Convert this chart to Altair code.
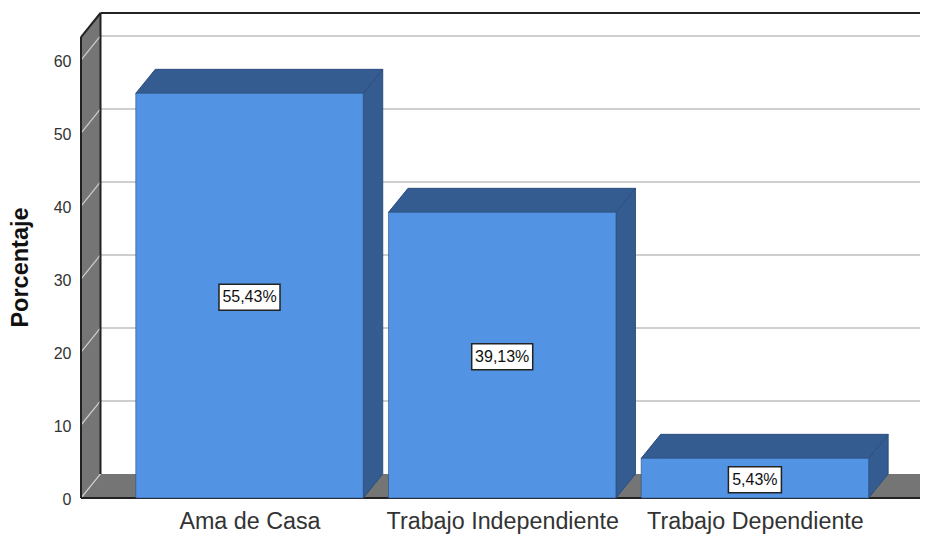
import altair as alt
import pandas as pd

categories = ["Ama de Casa", "Trabajo Independiente", "Trabajo Dependiente"]
values = [55.43, 39.13, 5.43]
labels = ["55,43%", "39,13%", "5,43%"]
y_ticks = [0, 10, 20, 30, 40, 50, 60]
y_title = "Porcentaje"

# scale frame (data units)
XMIN, XMAX, YMAX = -0.6668, 2.6533, 66.44
DX, DY = 0.0772, 3.29          # oblique depth of the 3D box
HALF = 0.45                    # half bar width
WALL_TOP = 63.15
PX_X = 1 / 252.7               # one pixel in x units
PX_Y = 1 / 7.3                 # one pixel in y units

FONT = "Liberation Sans"
FRONT, SHADE, EDGE = "#5294E3", "#345C90", "#2C4F7E"
WALL, GRID, DARK = "#757575", "#CFCFCF", "#222222"

X = alt.Scale(domain=[XMIN, XMAX], nice=False, zero=False)
Y = alt.Scale(domain=[0, YMAX], nice=False, zero=False)


def area(rows, fill, stroke=None, sw=1):
    kw = dict(fill=fill, interpolate="linear", opacity=1)
    if stroke:
        kw.update(stroke=stroke, strokeWidth=sw)
    return alt.Chart(pd.DataFrame(rows, columns=["g", "x", "y", "y2"])).mark_area(**kw).encode(
        x=alt.X("x:Q", scale=X, title=None),
        y=alt.Y("y:Q", scale=Y, title=y_title),
        y2="y2:Q",
        detail="g:N",
    )


def rules(rows, color, sw):
    return alt.Chart(pd.DataFrame(rows, columns=["x", "x2", "y", "y2"])).mark_rule(
        color=color, strokeWidth=sw
    ).encode(
        x=alt.X("x:Q", scale=X, title=None),
        x2="x2:Q",
        y=alt.Y("y:Q", scale=Y, title=y_title),
        y2="y2:Q",
    )


# axes carrier
axes = alt.Chart(pd.DataFrame({"x": [0], "y": [0]})).mark_point(opacity=0).encode(
    x=alt.X(
        "x:Q", scale=X, title=None,
        axis=alt.Axis(
            values=[0, 1, 2], grid=False, domain=False, ticks=False,
            labelExpr="[" + ",".join(f"'{c}'" for c in categories) + "][datum.value]",
            labelFont=FONT, labelFontSize=23.3, labelColor="#333333", labelPadding=12,
            labelOverlap=False, labelFlush=False, labelBound=False, labelLimit=400,
        ),
    ),
    y=alt.Y(
        "y:Q", scale=Y, title=y_title,
        axis=alt.Axis(
            values=y_ticks, grid=False, domain=False, ticks=False,
            labelFont=FONT, labelFontSize=16, labelColor="#333333", labelPadding=10,
            labelOffset=1, labelOverlap=False, labelBound=False,
            titleFont=FONT, titleFontSize=23.5, titleFontWeight="bold", titleColor="#111111",
            titleX=-54, titleY=254, titleBaseline="alphabetic",
        ),
    ),
)

left_wall = area(
    [("w", XMIN, 0, WALL_TOP), ("w", XMIN + DX, DY, WALL_TOP + DY)],
    WALL,
)
floor = area(
    [
        ("f", XMIN, 0, 0),
        ("f", XMIN + DX, 0, DY),
        ("f", XMAX, 0, DY),
    ],
    WALL,
)

grid_back = rules([(XMIN + DX, XMAX, t + DY, t + DY) for t in y_ticks if t > 0], GRID, 2)
grid_diag = rules([(XMIN, XMIN + DX, t, t + DY) for t in y_ticks], GRID, 1.2)
frame = rules(
    [
        (XMIN, XMIN, 0, WALL_TOP),
        (XMIN + DX, XMIN + DX, DY, WALL_TOP + DY),
        (XMIN, XMIN + DX, WALL_TOP, WALL_TOP + DY),
        (XMIN + DX, XMAX, WALL_TOP + DY, WALL_TOP + DY),
        (XMIN, XMAX, 0, 0),
    ],
    DARK, 2,
)

layers = [axes, left_wall, floor, grid_back, grid_diag, frame]

for i, v in enumerate(values):
    x0, x1 = i - HALF, i + HALF
    layers.append(area(
        [("s", x1, 0, v), ("s", x1 + DX, DY, v + DY)],
        SHADE, EDGE,
    ))
    layers.append(area(
        [
            ("t", x0, v, v),
            ("t", x0 + DX, v, v + DY),
            ("t", x1, v, v + DY),
            ("t", x1 + DX, v + DY, v + DY),
        ],
        SHADE, EDGE,
    ))

bars = pd.DataFrame({"i": range(3), "v": values, "label": labels})
bars["x0"] = bars.i - HALF
bars["x1"] = bars.i + HALF
bars["y0"] = 0
layers.append(
    alt.Chart(bars).mark_rect(fill=FRONT, stroke=EDGE, strokeWidth=1, strokeOpacity=0.6).encode(
        x=alt.X("x0:Q", scale=X, title=None), x2="x1:Q",
        y=alt.Y("y0:Q", scale=Y, title=y_title), y2="v:Q",
    )
)

bars["half"] = bars.label.str.len().map(lambda n: (8 * n + 13) / 2 * PX_X)
bars["lx0"] = bars.i - bars.half
bars["lx1"] = bars.i + bars.half
bars["mid"] = bars.v / 2 - 1.5 * PX_Y
bars["ly0"] = bars.mid - 13 * PX_Y
bars["ly1"] = bars.mid + 13 * PX_Y
layers.append(
    alt.Chart(bars).mark_rect(fill="white", stroke="#222222", strokeWidth=1.5).encode(
        x=alt.X("lx0:Q", scale=X, title=None), x2="lx1:Q",
        y=alt.Y("ly0:Q", scale=Y, title=y_title), y2="ly1:Q",
    )
)
layers.append(
    alt.Chart(bars).mark_text(font=FONT, fontSize=16, color="#111111", baseline="middle", align="center").encode(
        x=alt.X("i:Q", scale=X, title=None),
        y=alt.Y("mid:Q", scale=Y, title=y_title),
        text="label:N",
    )
)

chart = alt.layer(*layers).resolve_scale(x="shared", y="shared").properties(
    width=839,
    height=485,
    autosize=alt.AutoSizeParams(type="none"),
    padding={"left": 73, "top": 5, "right": 0, "bottom": 37},
    background="white",
).configure_view(stroke=None)

chart.save("out.html", embed_options={"renderer": "svg", "actions": False})
